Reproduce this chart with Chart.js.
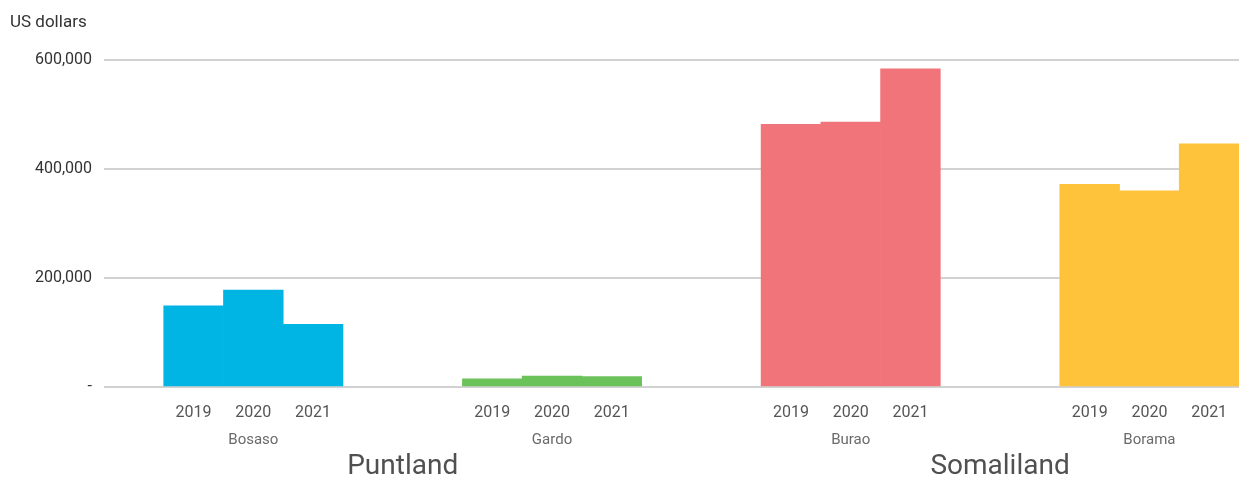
<!DOCTYPE html>
<html>
<head>
<meta charset="utf-8">
<script src="https://cdn.jsdelivr.net/npm/chart.js@4"></script>
<style>
  html, body { margin: 0; padding: 0; background: #fff; }
  #wrap { width: 1249px; height: 482px; position: relative; }
</style>
</head>
<body>
<div id="wrap"><canvas id="myChart"></canvas></div>
<script>
const years = ['2019', '2020', '2021']
const cities = ['Bosaso', 'Gardo', 'Burao', 'Borama']
const bosaso = [149000, 178000, 115000]
const gardo = [15000, 20000, 19000]
const burao = [482000, 486000, 584000]
const borama = [372000, 360000, 446000]
const regions = ['Puntland', 'Somaliland']
const regionCities = [['Bosaso', 'Gardo'], ['Burao', 'Borama']]
const colors = ['#00B4E3', '#6CC25A', '#F1747A', '#FEC23B']
const yTicks = [0, 200000, 400000, 600000]

const values = [bosaso, gardo, burao, borama]

// one empty slot in front, two empty slots between cities
const labels = ['']
const slotOf = []
cities.forEach((c, i) => {
  if (i > 0) labels.push('', '')
  slotOf.push([])
  years.forEach(y => {
    slotOf[i].push(labels.length)
    labels.push(y)
  })
})

const datasets = cities.map((c, i) => {
  const data = labels.map(() => null)
  slotOf[i].forEach((s, k) => { data[s] = values[i][k] })
  return {
    label: c,
    data: data,
    backgroundColor: colors[i],
    borderWidth: 0,
    grouped: false,
    barPercentage: 1,
    categoryPercentage: 1
  }
})

const textPlugin = {
  id: 'texts',
  afterDraw(chart) {
    const ctx = chart.ctx
    const x = chart.scales.x
    ctx.save()
    ctx.textAlign = 'left'
    ctx.textBaseline = 'middle'
    ctx.fillStyle = '#333'
    ctx.font = '17px Roboto'
    ctx.fillText('US dollars', 10, 23)

    ctx.textAlign = 'center'
    ctx.fillStyle = '#6a6a6a'
    ctx.font = '15px Roboto'
    const centers = {}
    cities.forEach((c, i) => {
      const cx = x.getPixelForValue(slotOf[i][1])
      centers[c] = cx
      ctx.fillText(c, cx, 440)
    })

    ctx.fillStyle = '#505050'
    ctx.font = '28px Roboto'
    regions.forEach((r, i) => {
      const cs = regionCities[i]
      const cx = (centers[cs[0]] + centers[cs[1]]) / 2
      ctx.fillText(r, cx, 467)
    })
    ctx.restore()
  }
}

var ctx = document.getElementById('myChart').getContext('2d')
var myChart = new Chart(ctx, {
  type: 'bar',
  data: { labels: labels, datasets: datasets },
  plugins: [textPlugin],
  options: {
    responsive: true,
    maintainAspectRatio: false,
    animation: false,
    layout: { padding: { top: 60, right: 10, left: 0, bottom: 0 } },
    plugins: {
      legend: { display: false },
      tooltip: { enabled: false }
    },
    scales: {
      x: {
        grid: { display: false, drawTicks: false },
        border: { display: false },
        ticks: {
          autoSkip: false,
          maxRotation: 0,
          padding: 16,
          color: '#555',
          font: { family: 'Roboto', size: 16 }
        },
        afterFit: s => { s.height = 95 }
      },
      y: {
        min: 0,
        max: 600000,
        afterBuildTicks: s => { s.ticks = yTicks.map(v => ({ value: v })) },
        grid: { color: '#d2d2d2', lineWidth: 2, drawTicks: false },
        border: { display: false },
        ticks: {
          padding: 12,
          color: '#333',
          font: { family: 'Roboto', size: 16 },
          callback: v => v === 0 ? '-' : v.toLocaleString('en-US')
        },
        afterFit: s => { s.width = 104 }
      }
    }
  }
})
</script>
</body>
</html>
